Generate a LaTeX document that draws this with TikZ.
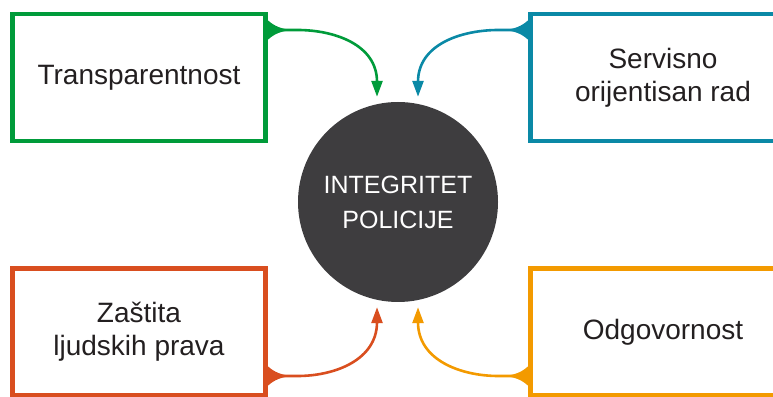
\documentclass[tikz,border=0pt]{standalone}
\usepackage{fontspec}
\setmainfont{Liberation Sans}
\usetikzlibrary{arrows.meta,calc}
\definecolor{zelena}{HTML}{009B3A}
\definecolor{plava}{HTML}{0A89A6}
\definecolor{crvena}{HTML}{D94E1F}
\definecolor{narandz}{HTML}{F39A00}
\definecolor{tamna}{HTML}{3E3D3F}
\definecolor{tekst}{HTML}{231F20}
\tikzset{
    okvir/.style = {draw, line width = 4.5pt, outer sep = 0pt, minimum width = 253pt,
        minimum height = 127pt, align = center, text = tekst,
        font = \fontsize{28}{33}\selectfont},
    veza/.style = {line width = 2.6pt, -{Triangle[length = 16pt, width = 11pt]}},
    jezicak/.pic = {\fill (0,-12) .. controls (6,-6) and (12,-1.5) .. (26,0)
        .. controls (12,1.5) and (6,6) .. (0,12) -- cycle;}
}
\begin{document}
\begin{tikzpicture}[x = 1pt, y = 1pt]
        \useasboundingbox (0,0) rectangle (773,396);
        \node[circle, fill = tamna, minimum size = 200pt, inner sep = 0pt, align = center,
            text = white, font = \fontsize{25}{35}\selectfont] (krug) at (398,194) {INTEGRITET\\POLICIJE};
        \node[okvir, draw = zelena] (trans) at (139,318.5) {Transparentnost};
        \node[okvir, draw = plava, minimum width = 265pt] (servis) at (663,318.5) {Servisno\\orijentisan rad};
        \node[okvir, draw = crvena] (zastita) at (139,64) {Zaštita\\ljudskih prava};
        \node[okvir, draw = narandz, minimum width = 265pt] (odgov) at (663,64) {Odgovornost};
        % gornje veze
        \coordinate (t1) at ($(trans.north east)+(0,-16)$);
        \coordinate (s1) at ($(servis.north west)+(0,-16)$);
        \pic[zelena] at (t1) {jezicak};
        \pic[plava, xscale = -1] at (s1) {jezicak};
        \draw[veza, zelena] (t1) -- ++(32,0) to[out = 0, in = 90] ($(krug.north)+(-21,20)$)
            -- ($(krug.north)+(-21,5)$);
        \draw[veza, plava] (s1) -- ++(-32,0) to[out = 180, in = 90] ($(krug.north)+(20,20)$)
            -- ($(krug.north)+(20,5)$);
        % donje veze
        \coordinate (z1) at ($(zastita.south east)+(0,19.5)$);
        \coordinate (o1) at ($(odgov.south west)+(0,19.5)$);
        \pic[crvena] at (z1) {jezicak};
        \pic[narandz, xscale = -1] at (o1) {jezicak};
        \draw[veza, crvena] (z1) -- ++(32,0) to[out = 0, in = -90] ($(krug.south)+(-21,-20)$)
            -- ($(krug.south)+(-21,-5)$);
        \draw[veza, narandz] (o1) -- ++(-32,0) to[out = 180, in = -90] ($(krug.south)+(20,-20)$)
            -- ($(krug.south)+(20,-5)$);
    \end{tikzpicture}
\end{document}
